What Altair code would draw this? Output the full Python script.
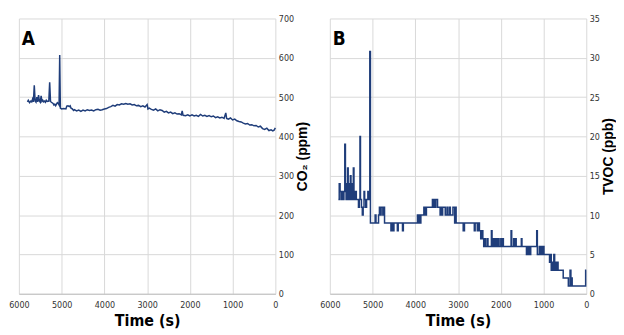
import altair as alt
import pandas as pd

# ---- Panel A : CO2 (ppm) vs time (s) ----
co2_time = [5800, 5780, 5750, 5720, 5700, 5680, 5660, 5640, 5620, 5600, 5580, 5560, 5540, 5520,
            5500, 5480, 5460, 5440, 5420, 5400, 5380, 5360, 5340, 5300, 5280, 5260, 5240, 5200,
            5180, 5160, 5140, 5120, 5100, 5080, 5060, 5045, 5030, 5000, 4950, 4900, 4880, 4850,
            4820, 4800, 4780, 4750, 4720, 4700, 4650, 4600, 4550, 4500, 4450, 4400, 4350, 4300,
            4250, 4200, 4150, 4100, 4050, 4000, 3950, 3900, 3850, 3800, 3750, 3700, 3650, 3600,
            3550, 3500, 3450, 3400, 3350, 3300, 3250, 3200, 3150, 3100, 3050, 3000, 2980, 2950,
            2900, 2850, 2800, 2750, 2700, 2650, 2600, 2550, 2500, 2450, 2400, 2350, 2300, 2250,
            2200, 2180, 2160, 2100, 2050, 2000, 1950, 1900, 1850, 1800, 1750, 1700, 1650, 1600,
            1550, 1500, 1450, 1400, 1350, 1300, 1250, 1200, 1160, 1140, 1100, 1050, 1000, 950,
            900, 850, 800, 750, 700, 650, 600, 550, 500, 450, 400, 350, 300, 250, 200, 150, 100,
            60, 30, 0]
co2_ppm = [488, 492, 486, 490, 488, 495, 488, 530, 490, 487, 500, 488, 505, 490,
           487, 503, 489, 492, 488, 490, 487, 492, 489, 490, 538, 489, 487, 484,
           480, 482, 478, 482, 486, 484, 480, 607, 472, 470, 471, 470, 477, 478,
           476, 478, 472, 470, 466, 468, 465, 467, 464, 467, 465, 468, 466, 467,
           465, 468, 469, 467, 468, 470, 471, 474, 476, 479, 477, 481, 480, 483,
           482, 484, 482, 483, 480, 481, 478, 479, 476, 478, 475, 481, 470, 472,
           469, 467, 470, 465, 468, 466, 462, 464, 460, 462, 458, 460, 457, 458,
           455, 465, 454, 453, 455, 452, 455, 452, 454, 451, 456, 452, 454, 451,
           453, 450, 452, 448, 450, 447, 449, 446, 460, 446, 444, 447, 442, 444,
           440, 438, 437, 434, 432, 433, 429, 430, 427, 428, 424, 426, 420, 418, 421, 415, 417,
           414, 416, 422]

# ---- Panel B : TVOC (ppb) vs time (s), stepwise readings ----
tvoc_time = [5800, 5780, 5760, 5740, 5720, 5700, 5670, 5650, 5635, 5620, 5600, 5585, 5570, 5555,
             5540, 5520, 5505, 5490, 5470, 5450, 5435, 5420, 5400, 5380, 5330, 5310, 5295, 5283,
             5260, 5240, 5220, 5200, 5185, 5160, 5140, 5110, 5080, 5065, 5050, 4940, 4920, 4860,
             4840, 4820, 4800, 4760, 4740, 4720, 4600, 4570, 4540, 4520, 4500, 4420, 4400, 4300,
             4280, 3950, 3930, 3910, 3890, 3870, 3800, 3770, 3740, 3600, 3580, 3560, 3540, 3520,
             3480, 3420, 3400, 3380, 3360, 3300, 3260, 3240, 3200, 3180, 3120, 3080, 3060, 3045,
             2880, 2850, 2620, 2600, 2550, 2530, 2500, 2470, 2450, 2420, 2400, 2380, 2360, 2320,
             2300, 2220, 2205, 2180, 2160, 2140, 2120, 2100, 2080, 2060, 2040, 2000, 1980, 1960,
             1940, 1760, 1745, 1700, 1680, 1660, 1640, 1520, 1505, 1400, 1380, 1360, 1340, 1320,
             1300, 1160, 1145, 1100, 1080, 1060, 1040, 1020, 990, 860, 840, 820, 800, 780, 760,
             740, 720, 700, 680, 660, 540, 420, 380, 360, 340, 330, 15, 0]
tvoc_ppb = [12, 14, 13, 12, 13, 12, 13, 19, 14, 12, 13, 16, 12, 14,
            12, 15, 12, 14, 12, 16, 13, 12, 13, 12, 11, 12, 20, 12,
            11, 10, 11, 13, 12, 11, 12, 13, 12, 30.8, 9, 10, 9, 10,
            11, 10, 11, 10, 11, 9, 9, 8, 9, 8, 9, 8, 9, 8,
            9, 10, 9, 10, 9, 10, 11, 10, 11, 12, 11, 12, 11, 12,
            11, 10, 11, 10, 11, 10, 11, 10, 11, 10, 11, 9, 11, 9,
            8, 9, 8, 9, 8, 9, 8, 7, 8, 7, 6, 7, 6, 7,
            6, 8, 6, 7, 6, 7, 6, 7, 6, 7, 6, 7, 6, 7,
            6, 8, 6, 7, 6, 7, 6, 7, 6, 5, 6, 5, 6, 5,
            6, 8, 5, 6, 5, 6, 5, 6, 5, 4, 5, 3, 4, 3, 5,
            3, 4, 3, 4, 3, 2, 1, 3, 1, 2, 1, 3, 3]

x_ticks = [0, 1000, 2000, 3000, 4000, 5000, 6000]
co2_ticks = [0, 100, 200, 300, 400, 500, 600, 700]
tvoc_ticks = [0, 5, 10, 15, 20, 25, 30, 35]

df_a = pd.DataFrame({"t": co2_time, "v": co2_ppm})
df_b = pd.DataFrame({"t": tvoc_time, "v": tvoc_ppb})

LINE = "#1f3d7a"
GRID = "#d9d9d9"
NARROW = "Liberation Sans Narrow, DejaVu Sans Condensed, sans-serif"
W, H = 259, 278


def xaxis():
    return alt.X("t:Q", scale=alt.Scale(domain=[0, 6000], reverse=True, nice=False),
                 axis=alt.Axis(values=x_ticks, format="d", title="Time (s)", grid=True,
                               gridColor=GRID, domainColor="#bfbfbf", ticks=False,
                               labelFlush=False, labelOverlap=False,
                               labelFont=NARROW, labelFontSize=9, labelColor="#333333",
                               labelPadding=7, titleFont=NARROW, titleFontSize=16,
                               titleFontWeight="bold", titleColor="#000000", titlePadding=3))


def yaxis(title, ticks, dom):
    return alt.Y("v:Q", scale=alt.Scale(domain=dom, nice=False),
                 axis=alt.Axis(orient="right", values=ticks, title=title, grid=True,
                               gridColor=GRID, domain=False, ticks=False, labelFlush=False,
                               labelFont=NARROW, labelFontSize=9, labelColor="#333333",
                               labelPadding=3, titleFont="Liberation Sans", titleFontSize=14,
                               titleFontWeight="bold", titleColor="#000000", titleAngle=270,
                               titleBaseline="top", titlePadding=2))


def panel_label(txt):
    return alt.Chart(pd.DataFrame({"s": [txt]})).mark_text(
        font=NARROW, fontSize=19, fontWeight="bold", color="#000000",
        align="left", baseline="alphabetic").encode(
        x=alt.value(3), y=alt.value(27), text="s:N")


line_a = alt.Chart(df_a).mark_line(color=LINE, strokeWidth=1.5).encode(
    x=xaxis(), y=yaxis("CO₂ (ppm)", co2_ticks, [0, 700]),
    order=alt.Order("t:Q", sort="descending"))
chart_a = alt.layer(line_a, panel_label("A")).properties(width=W, height=H)

line_b = alt.Chart(df_b).mark_line(color=LINE, strokeWidth=1.5, interpolate="step-after").encode(
    x=xaxis(), y=yaxis("TVOC (ppb)", tvoc_ticks, [0, 35]),
    order=alt.Order("t:Q", sort="descending"))
chart_b = alt.layer(line_b, panel_label("B")).properties(width=W, height=H)

chart = alt.hconcat(chart_a, chart_b, spacing=9).properties(
    padding={"left": 0, "top": 5, "right": 0, "bottom": 0},
    background="#ffffff").configure_view(stroke=None)

chart.save("out.html", embed_options={"renderer": "svg", "actions": False})
